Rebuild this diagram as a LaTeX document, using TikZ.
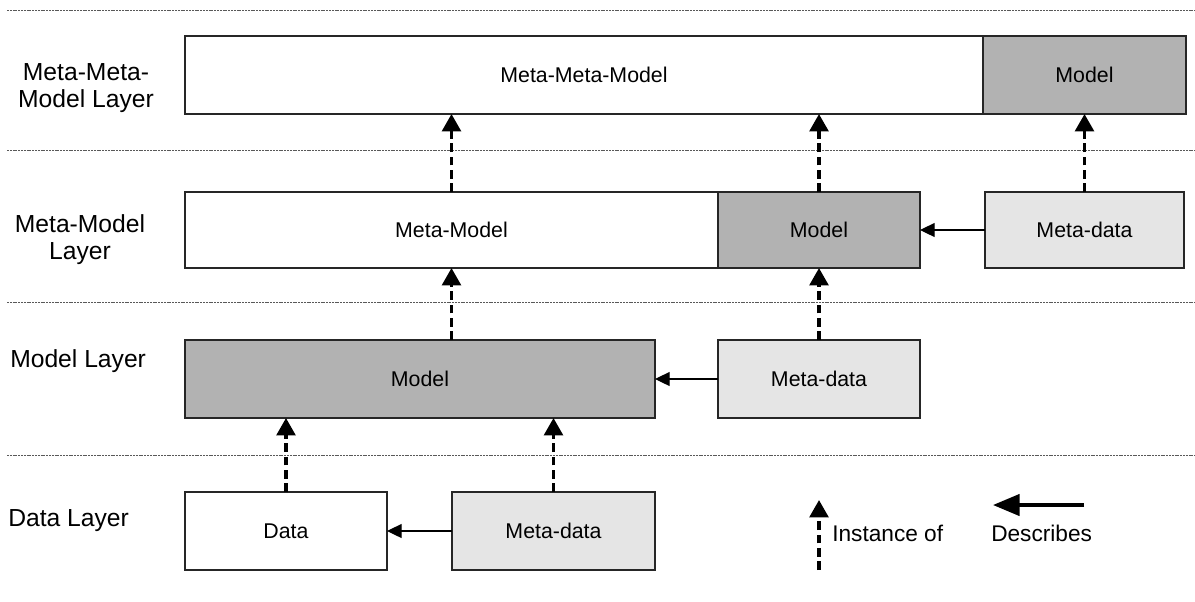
\documentclass[tikz,border=0pt]{standalone}
\usepackage{fontspec}
\setmainfont{Liberation Sans}
\usetikzlibrary{arrows.meta,calc}
\newcommand\mybox[7]{\node[box,#6,minimum width={(#4-#2)*0.75pt},minimum height={(#5-#3)*0.75pt}] (#1) at ({(#2+#4)/2},{(#3+#5)/2}) {#7};}
\begin{document}
\begin{tikzpicture}[x=0.75pt,y=-0.75pt,
 box/.style={draw=black!85,line width=1pt,inner sep=0pt,outer sep=0pt,font=\fontsize{16}{19}\selectfont},
 layerlbl/.style={font=\fontsize{18.5}{20.25}\selectfont,align=center,inner sep=0pt},
 lgd/.style={font=\fontsize{17}{20}\selectfont,inner sep=0pt},
 sep/.style={draw=black!65,line width=0.75pt,dash pattern=on 1.5pt off 0.6pt},
 inst/.style={line width=2.6pt,dash pattern=on 6.5pt off 3.5pt,-{Triangle[length=13pt,width=14pt]}},
 desc/.style={line width=0.9pt,-{Triangle[length=11pt,width=10.5pt]}},
 bigdesc/.style={line width=2.6pt,-{Triangle[length=20pt,width=16pt]}},
 dark/.style={fill=black!30}, light/.style={fill=black!10}, plain/.style={fill=white}]
\useasboundingbox (0,0) rectangle (1195,601);
% layer separators
\foreach \yy in {10,150,302,455} \draw[sep] (7,\yy) -- (1195,\yy);
% layer labels
\node[layerlbl] (L1) at (86,88) {Meta-Meta-\\Model Layer};
\node[layerlbl] (L2) at (80,240) {Meta-Model\\Layer};
\node[layerlbl,anchor=west] (L3) at (10,361) {Model Layer};
\node[layerlbl,anchor=west] (L4) at (8,521) {Data Layer};
% boxes
\mybox{mmm}{185}{36}{983}{114}{plain}{Meta-Meta-Model}
\mybox{mod1}{983}{36}{1186}{114}{dark}{Model}
\mybox{mm2}{185}{192}{718}{268}{plain}{Meta-Model}
\mybox{mod2}{718}{192}{920}{268}{dark}{Model}
\mybox{md2}{985}{192}{1184}{268}{light}{Meta-data}
\mybox{mod3}{185}{340}{655}{418}{dark}{Model}
\mybox{md3}{718}{340}{920}{418}{light}{Meta-data}
\mybox{dat4}{185}{492}{387}{570}{plain}{Data}
\mybox{md4}{452}{492}{655}{570}{light}{Meta-data}
% instance-of arrows
\draw[inst] (mm2.north) -- (mm2.north |- mmm.south);
\draw[inst] (mod2.north) -- (mod2.north |- mmm.south);
\draw[inst] (md2.north) -- (mod1.south);
\draw[inst] (mod3.north -| mm2.north) -- (mm2.south);
\draw[inst] (md3.north) -- (mod2.south);
\draw[inst] (dat4.north) -- (dat4.north |- mod3.south);
\draw[inst] (md4.north) -- (md4.north |- mod3.south);
% describes arrows
\draw[desc] (md2.west) -- (mod2.east);
\draw[desc] (md3.west) -- (mod3.east);
\draw[desc] (md4.west) -- (dat4.east);
% legend
\coordinate (li0) at (819,570);
\coordinate (li1) at (819,500);
\draw[inst] (li0) -- (li1);
\node[lgd,anchor=west] (lit) at (832,533) {Instance of};
\coordinate (ld0) at (1084,505);
\coordinate (ld1) at (993,505);
\draw[bigdesc] (ld0) -- (ld1);
\node[lgd,anchor=west] (ldt) at (991,533) {Describes};
\end{tikzpicture}
\end{document}
